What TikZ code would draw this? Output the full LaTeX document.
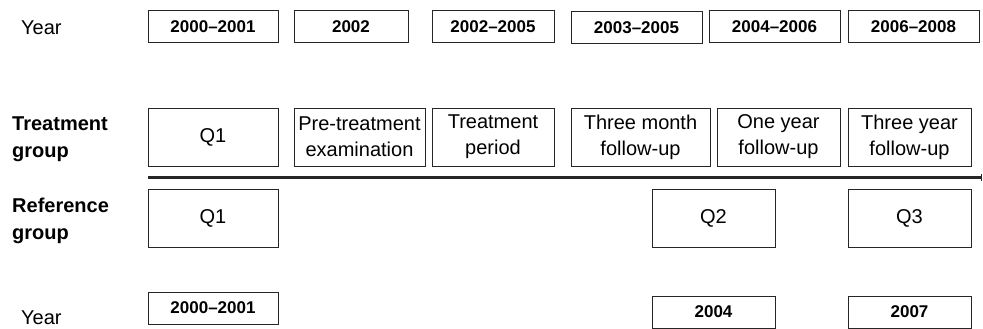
\documentclass[tikz,border=0pt]{standalone}
\usepackage{fontspec}
\setmainfont{Liberation Sans}
\usetikzlibrary{arrows.meta}

\begin{document}
\begin{tikzpicture}[x=1pt, y=-1pt,
  yearbox/.style={draw=black!85, line width=0.8pt, minimum height=32pt, inner sep=0pt, font=\fontsize{17}{20}\selectfont\bfseries},
  stagebox/.style={draw=black!85, line width=0.8pt, minimum height=58pt, inner sep=0pt, align=center, font=\fontsize{20}{26}\selectfont},
  rowlabel/.style={anchor=west, inner sep=0pt, align=left, font=\fontsize{20}{27}\selectfont\bfseries},
  yearlabel/.style={anchor=base west, inner sep=0pt, font=\fontsize{20}{24}\selectfont}]

\useasboundingbox (0,0) rectangle (983,329);

% row labels
\node[yearlabel] (yeartop) at (21,35) {Year};
\node[rowlabel] (treat) at (12,139) {Treatment\\group};
\node[rowlabel] (ref) at (12,221) {Reference\\group};
\node[yearlabel] (yearbot) at (21,324) {Year};

% years, treatment group
\node[yearbox, minimum width=130pt] (y1) at (213,26.5) {2000--2001};
\node[yearbox, minimum width=114pt] (y2) at (351,26.5) {2002};
\node[yearbox, minimum width=122pt] (y3) at (493,26.5) {2002--2005};
\node[yearbox, minimum width=131pt] (y4) at (636.5,27.5) {2003--2005};
\node[yearbox, minimum width=131pt] (y5) at (774.5,26.5) {2004--2006};
\node[yearbox, minimum width=131pt] (y6) at (913.5,26.5) {2006--2008};

% treatment group
\node[stagebox, minimum width=130pt] (tq1) at (213,137) {Q1};
\node[stagebox, minimum width=131pt] (pre) at (359.5,137) {Pre-treatment\\examination};
\node[stagebox, minimum width=122pt] (per) at (493,137) {Treatment\\period};
\node[stagebox, minimum width=139pt] (fu3m) at (640.5,137) {Three month\\follow-up};
\node[stagebox, minimum width=123pt] (fu1y) at (778.5,137) {One year\\follow-up};
\node[stagebox, minimum width=123pt] (fu3y) at (909.5,137) {Three year\\follow-up};

% time axis
\coordinate (axstart) at (148,177);
\coordinate (axend) at (982,177);
\draw[line width=3pt, black!85, -{Bar[width=7pt, line width=1pt]}] (axstart) -- (axend);

% reference group
\node[stagebox, minimum width=130pt] (rq1) at (213,218) {Q1};
\node[stagebox, minimum width=123pt] (rq2) at (713.5,218) {Q2};
\node[stagebox, minimum width=123pt] (rq3) at (909.5,218) {Q3};

% years, reference group
\node[yearbox, minimum width=130pt] (r1) at (213,308) {2000--2001};
\node[yearbox, minimum width=123pt] (r2) at (713.5,312) {2004};
\node[yearbox, minimum width=123pt] (r3) at (909.5,312) {2007};

\end{tikzpicture}
\end{document}
